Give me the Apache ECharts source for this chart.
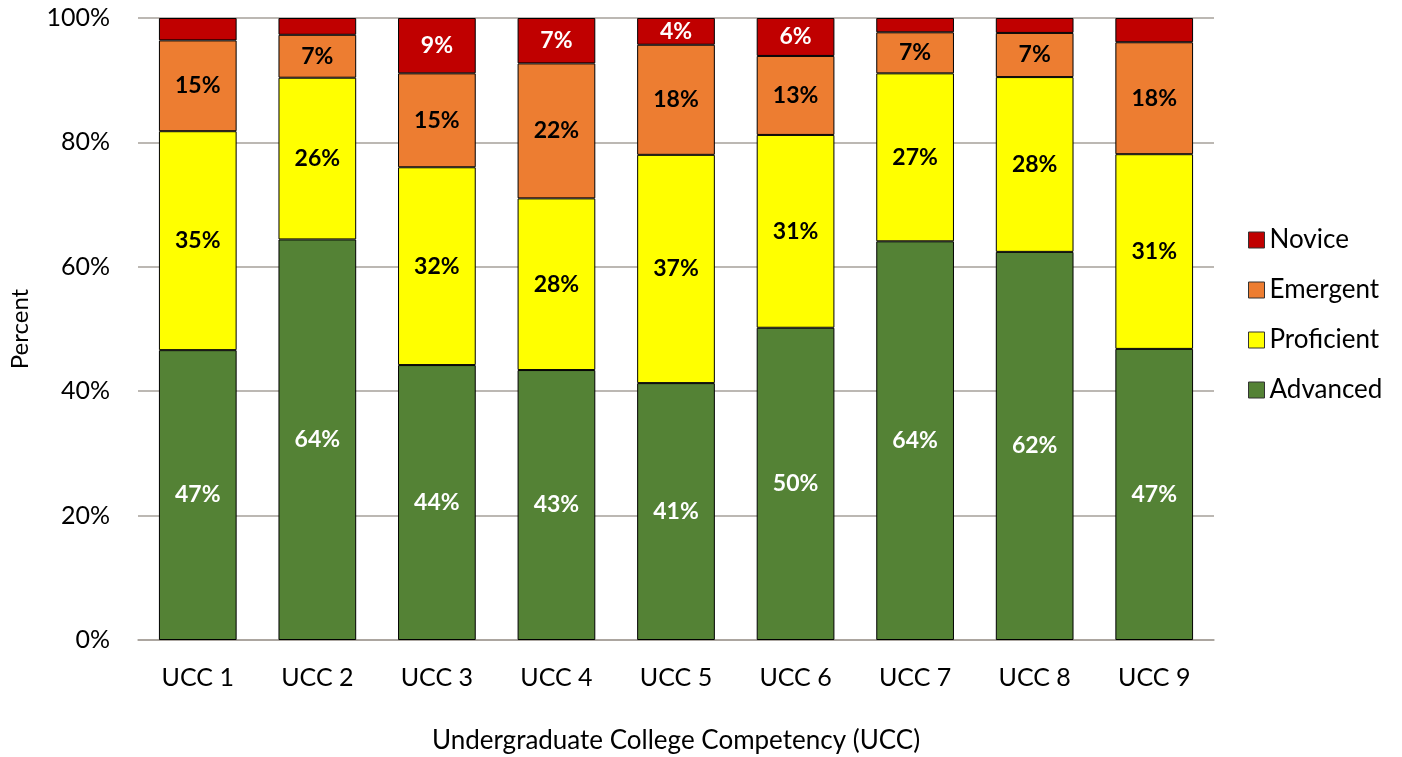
<!DOCTYPE html>
<html>
<head>
<meta charset="utf-8">
<script src="https://cdn.jsdelivr.net/npm/echarts@6/dist/echarts.min.js"></script>
<style>
  html, body { margin: 0; padding: 0; background: #fff; }
  #main { width: 1402px; height: 757px; }
</style>
</head>
<body>
<div id="main"></div>
<script>
var categories = ['UCC 1', 'UCC 2', 'UCC 3', 'UCC 4', 'UCC 5', 'UCC 6', 'UCC 7', 'UCC 8', 'UCC 9'];
var advanced = [46.6, 64.4, 44.2, 43.4, 41.3, 50.2, 64.1, 62.4, 46.8];
var proficient = [35.2, 26.0, 31.8, 27.6, 36.7, 31.0, 27.0, 28.1, 31.3];
var emergent = [14.6, 6.9, 15.1, 21.7, 17.7, 12.7, 6.6, 7.1, 18.0];
var novice = [3.6, 2.7, 8.9, 7.3, 4.3, 6.1, 2.3, 2.4, 3.9];

var chartDom = document.getElementById('main');
var myChart = echarts.init(chartDom, null, { renderer: 'canvas' });
var font = 'Lato';

function makeSeries(name, data, color, labelColor, minShow) {
  return {
    name: name,
    type: 'bar',
    stack: 'total',
    barWidth: '65%',
    data: data,
    itemStyle: { color: color, borderColor: '#000', borderWidth: 1 },
    label: {
      show: true,
      position: 'inside',
      color: labelColor,
      fontFamily: font,
      fontWeight: 'bold',
      fontSize: 23,
      formatter: function (p) {
        if (p.value < minShow) return '';
        return Math.round(p.value) + '%';
      }
    }
  };
}

var option = {
  animation: false,
  textStyle: { fontFamily: font },
  grid: { left: 138, right: 188, top: 18, bottom: 117, outerBoundsMode: 'none' },
  legend: {
    orient: 'vertical',
    left: 1243,
    top: 222,
    itemWidth: 16,
    itemHeight: 16,
    itemGap: 24,
    icon: 'rect',
    data: ['Novice', 'Emergent', 'Proficient', 'Advanced'],
    textStyle: { fontFamily: font, fontSize: 26, color: '#000' },
    itemStyle: { borderColor: '#333', borderWidth: 1 }
  },
  xAxis: {
    type: 'category',
    data: categories,
    name: 'Undergraduate College Competency (UCC)',
    nameLocation: 'middle',
    nameGap: 88,
    nameTextStyle: { fontFamily: font, fontSize: 26, color: '#000' },
    axisLine: { lineStyle: { color: '#a6a09a', width: 1.5 } },
    axisTick: { show: false },
    axisLabel: { fontFamily: font, fontSize: 25, color: '#000', margin: 25 }
  },
  yAxis: {
    type: 'value',
    min: 0,
    max: 100,
    interval: 20,
    name: 'Percent',
    nameLocation: 'middle',
    nameGap: 106,
    nameTextStyle: { fontFamily: font, fontSize: 24, color: '#000' },
    axisLine: { show: false },
    axisTick: { show: false },
    axisLabel: { fontFamily: font, fontSize: 25, color: '#000', margin: 28, formatter: '{value}%' },
    splitLine: { lineStyle: { color: '#a6a09a', width: 1.5 } }
  },
  series: [
    makeSeries('Advanced', advanced, '#548235', '#fff', 0),
    makeSeries('Proficient', proficient, '#ffff00', '#000', 0),
    makeSeries('Emergent', emergent, '#ed7d31', '#000', 0),
    makeSeries('Novice', novice, '#c00000', '#fff', 4)
  ]
};
myChart.setOption(option);
</script>
</body>
</html>
